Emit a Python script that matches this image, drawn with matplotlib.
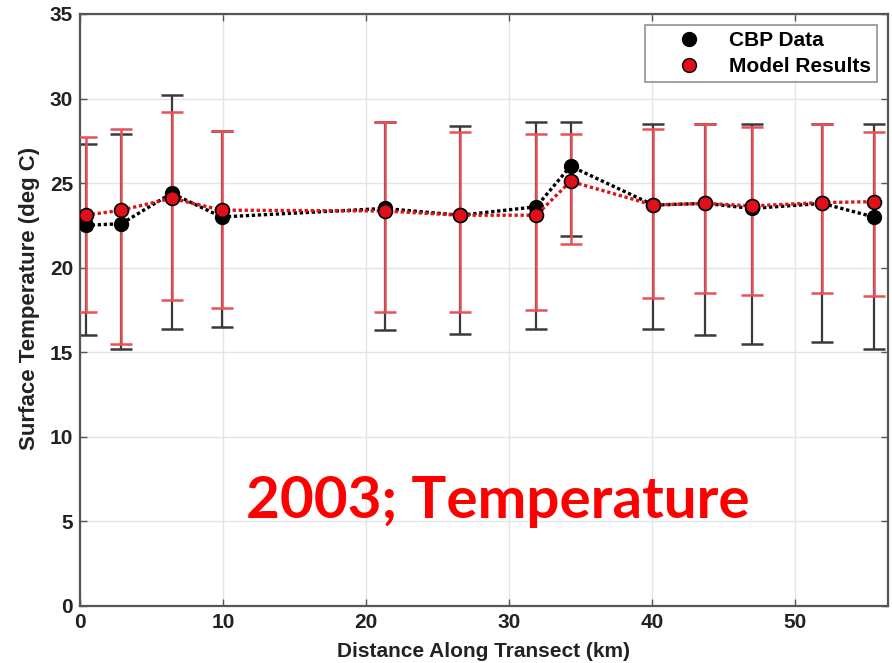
import matplotlib
matplotlib.use("Agg")
import matplotlib.pyplot as plt
from matplotlib.lines import Line2D

# Station positions along the transect (km)
distance_km = [0.4, 2.9, 6.4, 9.9, 21.3, 26.6, 31.9, 34.3, 40.1, 43.7, 47.0, 51.9, 55.5]

# CBP observed surface temperature (deg C) with min / max range
cbp_mean = [22.5, 22.6, 24.4, 23.0, 23.5, 23.1, 23.6, 26.0, 23.7, 23.8, 23.5, 23.8, 23.0]
cbp_low = [16.0, 15.2, 16.4, 16.5, 16.3, 16.1, 16.4, 21.9, 16.4, 16.0, 15.5, 15.6, 15.2]
cbp_high = [27.3, 27.9, 30.2, 28.1, 28.6, 28.4, 28.6, 28.6, 28.5, 28.5, 28.5, 28.5, 28.5]

# Model surface temperature (deg C) with min / max range
model_mean = [23.1, 23.4, 24.1, 23.4, 23.35, 23.1, 23.1, 25.1, 23.7, 23.8, 23.65, 23.85, 23.9]
model_low = [17.4, 15.5, 18.1, 17.6, 17.4, 17.4, 17.5, 21.4, 18.2, 18.5, 18.4, 18.5, 18.3]
model_high = [27.7, 28.2, 29.2, 28.1, 28.6, 28.0, 27.9, 27.9, 28.2, 28.5, 28.3, 28.5, 28.0]

x_ticks = [0, 10, 20, 30, 40, 50]
y_ticks = [0, 5, 10, 15, 20, 25, 30, 35]

fig = plt.figure(figsize=(8.92, 6.63), dpi=100)
ax = fig.add_axes([0.0897, 0.086, 0.9058, 0.893])

bold = dict(family="Liberation Sans", weight="bold")

def spread(mean, low, high):
    return [[m - l for m, l in zip(mean, low)], [h - m for m, h in zip(mean, high)]]

# CBP error bars (dark) underneath the model ones
ax.errorbar(distance_km, cbp_mean, yerr=spread(cbp_mean, cbp_low, cbp_high),
            fmt="none", ecolor="#3a3a3a", elinewidth=1.6, capsize=8, capthick=1.8, zorder=2)
ax.errorbar(distance_km, model_mean, yerr=spread(model_mean, model_low, model_high),
            fmt="none", ecolor="#e8505a", elinewidth=1.8, capsize=8, capthick=1.8, zorder=3)

ax.plot(distance_km, cbp_mean, linestyle=(0, (1, 0.8)), color="black", linewidth=2.4,
        marker="o", markersize=10, markerfacecolor="black", markeredgecolor="black", zorder=4)
ax.plot(distance_km, model_mean, linestyle=(0, (1, 0.8)), color="#d81818", linewidth=2.4,
        marker="o", markersize=10, markerfacecolor="#e0101a", markeredgecolor="black",
        markeredgewidth=1.2, zorder=5)

ax.set_xlim(0, 56.5)
ax.set_ylim(0, 35)
ax.set_xticks(x_ticks)
ax.set_yticks(y_ticks)
ax.tick_params(direction="in", top=True, right=True, length=5, width=1, color="#555555",
               labelsize=15, pad=5)
for lab in ax.get_xticklabels() + ax.get_yticklabels():
    lab.set_fontfamily("Liberation Sans")
    lab.set_fontweight("bold")
    lab.set_color("#222222")
ax.grid(True, color="#e4e4e4", linewidth=1.0)
ax.set_axisbelow(True)
for s in ax.spines.values():
    s.set_color("#555555")
    s.set_linewidth(1.6)

ax.set_xlabel("Distance Along Transect (km)", fontsize=15, color="#222222", labelpad=7, **bold)
ax.set_ylabel("Surface Temperature (deg C)", fontsize=16, color="#222222", **bold)
ax.yaxis.set_label_coords(-0.050, 0.52)

handles = [
    Line2D([], [], linestyle="none", marker="o", markersize=10, markerfacecolor="black",
           markeredgecolor="black"),
    Line2D([], [], linestyle="none", marker="o", markersize=10, markerfacecolor="#e0101a",
           markeredgecolor="black"),
]
leg = ax.legend(handles, ["CBP Data", "Model Results"], loc="upper right",
                bbox_to_anchor=(0.987, 0.982), borderaxespad=0,
                prop=dict(family="Liberation Sans", weight="bold", size=15),
                frameon=True, fancybox=False, handletextpad=0.15, borderpad=0.3,
                labelspacing=0.35, handlelength=3.6)
leg.get_frame().set_edgecolor("#777777")
leg.get_frame().set_linewidth(1.2)

ax.text(29.25, 5.2, "2003; Temperature", color="#ff0000", fontsize=42, fontfamily="Lato",
        fontweight="bold", ha="center", va="baseline", zorder=6)

fig.savefig("out.png", dpi=100)
